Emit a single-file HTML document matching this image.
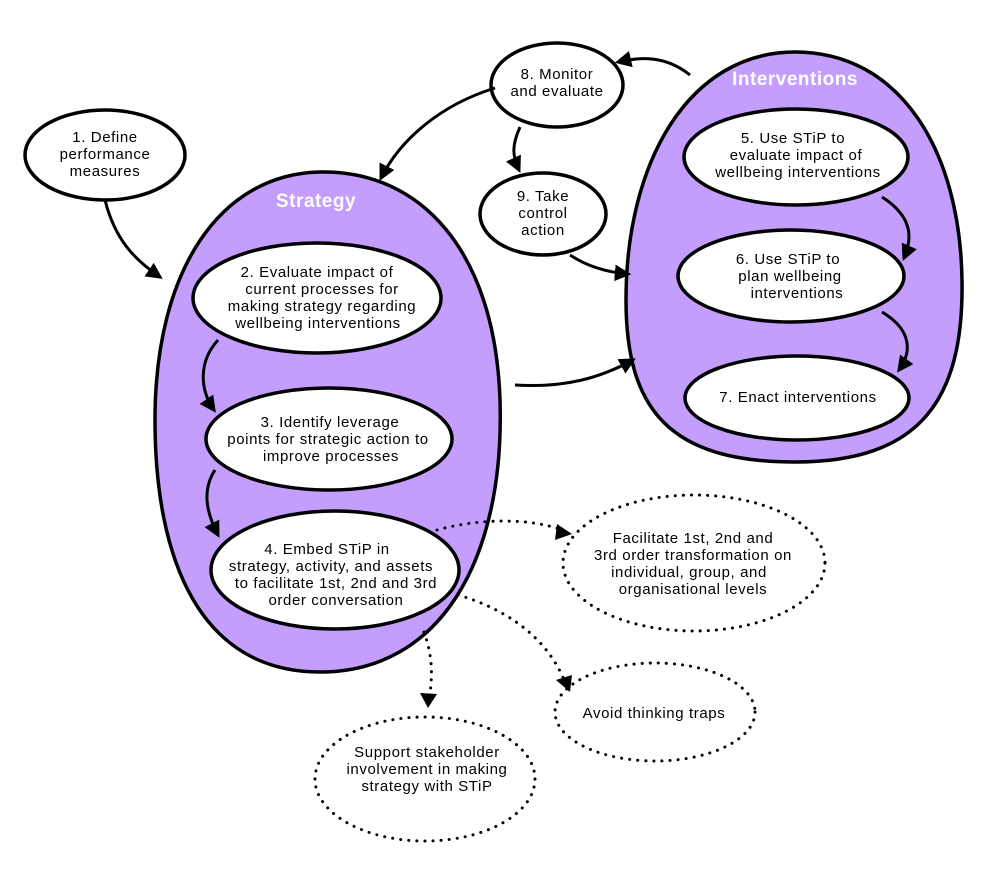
<!DOCTYPE html>
<html><head><meta charset="utf-8"><style>
html,body{margin:0;padding:0;background:#fff}
svg{display:block}
text{font-family:"Liberation Sans",sans-serif;font-size:15px;letter-spacing:0.6px;fill:#000;text-anchor:middle}
.t{font-weight:bold;font-size:19px;letter-spacing:0.5px;fill:#fff}
</style></head><body>
<svg width="1000" height="880" viewBox="0 0 1000 880" xmlns="http://www.w3.org/2000/svg">
<defs>
<marker id="a" viewBox="0 0 10 10" refX="8" refY="5" markerWidth="5.5" markerHeight="5.5" orient="auto"><path d="M0,0 L10,5 L0,10 Z" fill="#000"/></marker>
</defs>
<g stroke="#000" stroke-width="3.5" fill="#c39efc">
<path d="M320 172 C420 170 495 250 500 400 C505 560 440 672 320 672 C200 672 155 560 155 420 C155 270 220 174 320 172 Z"/>
<path d="M795 52 C900 52 960 150 962 280 C964 400 920 462 795 462 C670 462 626 410 626 300 C626 160 690 52 795 52 Z"/>
</g>
<text class="t" x="316" y="207">Strategy</text>
<text class="t" x="795" y="85">Interventions</text>
<g stroke="#000" stroke-width="3.5" fill="#fff">
<ellipse cx="105" cy="155" rx="80" ry="45"/>
<ellipse cx="557" cy="85" rx="66" ry="42"/>
<ellipse cx="543" cy="214" rx="63" ry="41"/>
<ellipse cx="317" cy="298" rx="124" ry="55"/>
<ellipse cx="329" cy="439" rx="123" ry="51"/>
<ellipse cx="335" cy="570" rx="124" ry="59"/>
<ellipse cx="796" cy="157" rx="112" ry="48"/>
<ellipse cx="791" cy="276" rx="113" ry="46"/>
<ellipse cx="797" cy="398" rx="112" ry="42"/>
</g>
<g stroke="#000" stroke-width="3" fill="none" stroke-dasharray="0.1 8" stroke-linecap="round">
<ellipse cx="694" cy="563" rx="131" ry="68"/>
<ellipse cx="655" cy="712" rx="100" ry="49"/>
<ellipse cx="425" cy="779" rx="110" ry="62"/>
<path d="M437 530 C480 518 530 518 562 530"/>
<path d="M458 595 C510 610 548 640 565 682"/>
<path d="M424 632 C434 660 432 680 429 700"/>
</g>
<g fill="#000">
<path d="M572 534 L557 524 L555 540 Z"/>
<path d="M570 692 L556 680 L572 675 Z"/>
<path d="M428 708 L420 693 L437 694 Z"/>
</g>
<g stroke="#000" stroke-width="3" fill="none" marker-end="url(#a)">
<path d="M105 200 C115 240 135 260 160 277"/>
<path d="M495 88 C440 105 400 140 381 178"/>
<path d="M690 75 C665 55 640 57 618 62"/>
<path d="M520 127 C512 145 512 155 519 170"/>
<path d="M570 255 C585 265 605 272 628 274"/>
<path d="M515 385 C565 388 600 378 633 360"/>
<path d="M218 340 C198 362 200 390 214 410"/>
<path d="M215 470 C202 490 206 512 218 535"/>
<path d="M882 197 C910 215 914 235 904 258"/>
<path d="M882 312 C912 330 912 352 899 370"/>
</g>
<text x="105" y="142">1. Define</text><text x="105" y="159">performance</text><text x="105" y="176">measures</text>
<text x="557" y="79">8. Monitor</text><text x="557" y="96">and evaluate</text>
<text x="543" y="201">9. Take</text><text x="543" y="218">control</text><text x="543" y="235">action</text>
<text x="317" y="277">2. Evaluate impact of</text><text x="322" y="294">current processes for</text><text x="322" y="311">making strategy regarding</text><text x="318" y="328">wellbeing interventions</text>
<text x="330" y="427">3. Identify leverage</text><text x="328" y="444">points for strategic action to</text><text x="331" y="461">improve processes</text>
<text x="327" y="554">4. Embed STiP in</text><text x="331" y="571">strategy, activity, and assets</text><text x="336" y="588">to facilitate 1st, 2nd and 3rd</text><text x="336" y="605">order conversation</text>
<text x="793" y="143">5. Use STiP to</text><text x="796" y="160">evaluate impact of</text><text x="798" y="177">wellbeing interventions</text>
<text x="788" y="264">6. Use STiP to</text><text x="790" y="281">plan wellbeing</text><text x="797" y="298">interventions</text>
<text x="798" y="402">7. Enact interventions</text>
<text x="693" y="543">Facilitate 1st, 2nd and</text><text x="693" y="560">3rd order transformation on</text><text x="689" y="577">individual, group, and</text><text x="693" y="594">organisational levels</text>
<text x="654" y="718">Avoid thinking traps</text>
<text x="427" y="757">Support stakeholder</text><text x="427" y="774">involvement in making</text><text x="427" y="791">strategy with STiP</text>
</svg>
</body></html>
